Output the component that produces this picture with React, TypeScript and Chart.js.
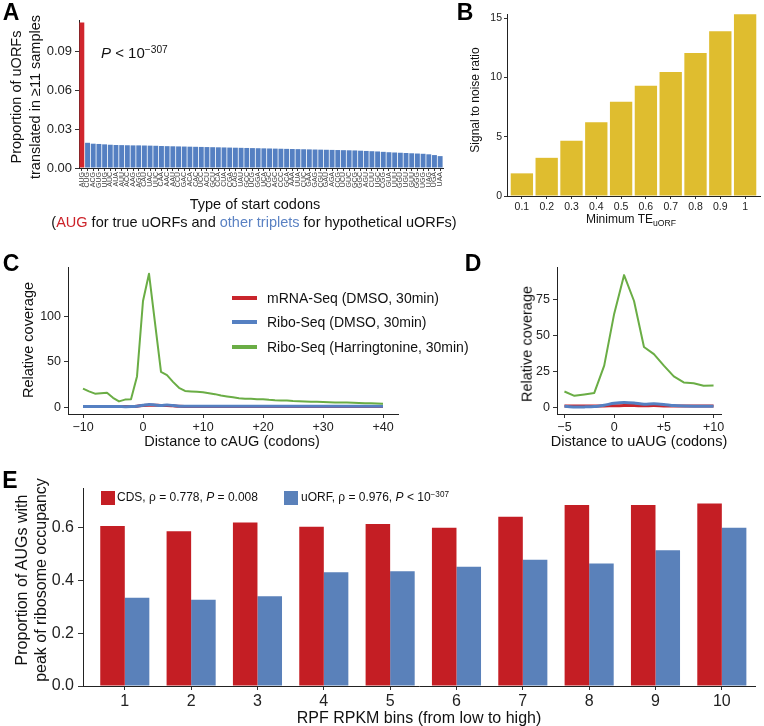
import React, { useEffect, useRef } from 'react';
import { Chart, registerables } from 'chart.js';
Chart.register(...registerables);

const FONT = '"Liberation Sans", Arial, Helvetica, sans-serif';

// ---------- Panel A ----------
const codons = ['AUG', 'CUG', 'ACG', 'GUG', 'UUG', 'AUC', 'AUA', 'AUU', 'ACC', 'AAG', 'AGG', 'CAU', 'UAC', 'UUC', 'CAA', 'AAC', 'AAU', 'CCU', 'GAC', 'ACA', 'CAC', 'UCC', 'ACU', 'GCU', 'CCA', 'CUA', 'CGA', 'CAG', 'UAU', 'GCC', 'UCG', 'GGA', 'UCA', 'CGC', 'AGC', 'CCC', 'GCA', 'AAA', 'UUA', 'CUC', 'GAA', 'GAG', 'CGU', 'GAU', 'AGA', 'CCG', 'UCU', 'GUC', 'GCG', 'GGC', 'AGU', 'CUU', 'UGC', 'CGG', 'GUA', 'UUU', 'GGU', 'UGU', 'GUU', 'GGG', 'UGG', 'UAG', 'UGA', 'UAA'];
const uorfProportion = [0.1126,
  0.0195, 0.0188, 0.0186, 0.0183, 0.0180, 0.0178, 0.0177, 0.0176, 0.0175, 0.0175,
  0.0174, 0.0173, 0.0172, 0.0170, 0.0169, 0.0168, 0.0167, 0.0166, 0.0165, 0.0164,
  0.0163, 0.0162, 0.0161, 0.0160, 0.0159, 0.0158, 0.0157, 0.0156, 0.0155, 0.0154,
  0.0153, 0.0152, 0.0151, 0.0150, 0.0149, 0.0148, 0.0147, 0.0146, 0.0145, 0.0144,
  0.0143, 0.0142, 0.0141, 0.0140, 0.0139, 0.0138, 0.0137, 0.0136, 0.0134, 0.0132,
  0.0130, 0.0128, 0.0125, 0.0122, 0.0120, 0.0118, 0.0116, 0.0114, 0.0112, 0.0110,
  0.0106, 0.0100, 0.0092];
const aYTicks = [0, 0.03, 0.06, 0.09];

// ---------- Panel B ----------
const teThresholds = ['0.1', '0.2', '0.3', '0.4', '0.5', '0.6', '0.7', '0.8', '0.9', '1'];
const signalToNoise = [1.91, 3.22, 4.66, 6.23, 7.94, 9.29, 10.46, 12.06, 13.89, 15.32];
const bYTicks = [0, 5, 10, 15];

// ---------- Panel C ----------
const cPositions = [-10, -9, -8, -7, -6, -5, -4, -3, -2, -1, 0, 1, 2, 3, 4, 5, 6, 7, 8, 9, 10, 11, 12, 13, 14, 15, 16, 17, 18, 19, 20, 21, 22, 23, 24, 25, 26, 27, 28, 29, 30, 31, 32, 33, 34, 35, 36, 37, 38, 39, 40];
const cMrnaDmso = [0.8, 0.8, 0.8, 0.8, 0.8, 0.8, 0.8, 0.9, 1.0, 1.3, 2.0, 2.4, 2.3, 2.0, 2.0, 1.6, 1.2, 1.0, 1.0, 1.0, 1.0, 1.0, 1.0, 1.0, 1.0, 1.0, 1.0, 1.0, 1.0, 1.0, 1.0, 1.0, 1.0, 1.0, 1.0, 1.0, 1.0, 1.0, 1.0, 1.0, 1.0, 1.0, 1.0, 1.0, 1.0, 1.0, 1.0, 1.0, 1.0, 1.0, 1.0];
const cRiboDmso = [0.9, 0.9, 0.9, 0.9, 0.9, 0.9, 0.9, 0.7, 0.8, 1.2, 2.2, 3.2, 2.6, 2.0, 2.6, 2.0, 1.2, 1.1, 1.1, 1.1, 1.1, 1.1, 1.1, 1.1, 1.1, 1.1, 1.1, 1.1, 1.1, 1.1, 1.1, 1.1, 1.1, 1.1, 1.1, 1.1, 1.1, 1.1, 1.1, 1.1, 1.1, 1.1, 1.1, 1.1, 1.1, 1.1, 1.1, 1.1, 1.1, 1.1, 1.1];
const cRiboHarr = [20.5, 17.5, 15, 15.5, 16, 10.5, 6.5, 8.5, 9, 34, 117, 147, 93, 39, 35.5, 28, 21.5, 18, 17.5, 17, 16.5, 15.5, 14.5, 13, 12, 11, 10, 9.5, 9.3, 8.8, 8.8, 8.2, 7.8, 7.6, 7.4, 7, 6.8, 6.5, 6.2, 6, 5.8, 5.6, 5.4, 5.3, 5.2, 5, 4.8, 4.6, 4.4, 4.2, 4];
const cXTicks = [-10, 0, 10, 20, 30, 40];
const cYTicks = [0, 50, 100];

// ---------- Panel D ----------
const dPositions = [-5, -4, -3, -2, -1, 0, 1, 2, 3, 4, 5, 6, 7, 8, 9, 10];
const dMrnaDmso = [1.0, 1.0, 1.0, 1.0, 1.0, 1.1, 1.2, 1.2, 1.1, 1.2, 1.0, 1.0, 1.0, 1.0, 1.0, 1.0];
const dRiboDmso = [0.8, 0.3, 0.3, 0.5, 1.5, 2.8, 3.4, 3.0, 2.2, 2.5, 2.0, 1.2, 0.9, 0.8, 0.8, 0.8];
const dRiboHarr = [11, 8, 9, 10, 29, 65, 92, 74, 42, 37, 29, 21.5, 17.3, 16.8, 15, 15.2];
const dXTicks = [-5, 0, 5, 10];
const dYTicks = [0, 25, 50, 75];

// ---------- Panel E ----------
const rpkmBins = [1, 2, 3, 4, 5, 6, 7, 8, 9, 10];
const cdsPeakProportion = [0.606, 0.586, 0.619, 0.603, 0.614, 0.599, 0.641, 0.686, 0.686, 0.691];
const uorfPeakProportion = [0.334, 0.327, 0.340, 0.431, 0.435, 0.452, 0.478, 0.464, 0.514, 0.599];
const eYTicks = [0, 0.2, 0.4, 0.6];

const RED_A = '#D0262D';
const BLUE_A = '#5580C2';
const GOLD = '#DFBD2F';
const L_RED = '#C9252C';
const L_BLUE = '#5580C2';
const L_GREEN = '#6AAD45';
const RED_E = '#C41E24';
const BLUE_E = '#5A81BA';

const tickGrid = (len: number) => ({ display: true, drawOnChartArea: false, drawTicks: true, tickLength: len, color: '#333', lineWidth: 1, offset: false });
const border = { display: true, color: '#222', width: 1 };
const fixTicks = (vals: number[]) => (s: any) => { s.ticks = vals.map((v) => ({ value: v })); };
const signed = (v: number) => (v > 0 ? '+' + v : v < 0 ? '\u2212' + Math.abs(v) : '0');

const basePlugins = { legend: { display: false }, tooltip: { enabled: false } };

function makeA(): any {
  return {
    type: 'bar',
    data: {
      datasets: [{
        data: codons.map((c, i) => ({ x: i + 1, y: uorfProportion[i] })),
        backgroundColor: codons.map((c, i) => (i === 0 ? RED_A : BLUE_A)),
        barPercentage: 0.86, categoryPercentage: 1,
      }],
    },
    options: {
      animation: false, responsive: false,
      layout: { padding: { top: 20, right: 17, left: 0, bottom: 0 } },
      plugins: basePlugins,
      scales: {
        x: {
          type: 'linear', min: 0.5, max: 64.5, offset: false,
          afterBuildTicks: fixTicks(codons.map((c, i) => i + 1)),
          afterFit: (s: any) => { s.height = 32; },
          ticks: { autoSkip: false, minRotation: 90, maxRotation: 90, padding: 1, color: '#444', font: { family: FONT, size: 7 }, callback: (v: any) => codons[Math.round(v) - 1] },
          grid: tickGrid(3), border,
        },
        y: {
          min: 0, max: 0.1145,
          afterBuildTicks: fixTicks(aYTicks),
          afterFit: (s: any) => { s.width = 79; },
          ticks: { padding: 3, color: '#222', font: { family: FONT, size: 13 }, callback: (v: any) => Number(v).toFixed(2) },
          grid: tickGrid(4), border,
        },
      },
    },
  };
}

function makeB(): any {
  return {
    type: 'bar',
    data: {
      datasets: [{
        data: teThresholds.map((t, i) => ({ x: i + 1, y: signalToNoise[i] })),
        backgroundColor: GOLD, barPercentage: 0.9, categoryPercentage: 1,
      }],
    },
    options: {
      animation: false, responsive: false,
      layout: { padding: { top: 14, right: 4, left: 0, bottom: 0 } },
      plugins: basePlugins,
      scales: {
        x: {
          type: 'linear', min: 0.4, max: 10.6, offset: false,
          afterBuildTicks: fixTicks(teThresholds.map((t, i) => i + 1)),
          afterFit: (s: any) => { s.height = 34; },
          ticks: { autoSkip: false, maxRotation: 0, padding: 2, color: '#222', font: { family: FONT, size: 10.5 }, callback: (v: any) => teThresholds[Math.round(v) - 1] },
          grid: tickGrid(3), border,
        },
        y: {
          min: 0, max: 15.35,
          afterBuildTicks: fixTicks(bYTicks),
          afterFit: (s: any) => { s.width = 27; },
          ticks: { padding: 2, color: '#222', font: { family: FONT, size: 10.5 }, callback: (v: any) => String(v) },
          grid: tickGrid(3), border,
        },
      },
    },
  };
}

function lineSet(xs: number[], ys: number[], color: string, width: number, order: number) {
  return {
    data: xs.map((x, i) => ({ x, y: ys[i] })),
    borderColor: color, borderWidth: width, pointRadius: 0, tension: 0.25, fill: false, order,
    borderJoinStyle: 'round', borderCapStyle: 'butt',
  };
}

function makeLine(xs: number[], red: number[], blue: number[], green: number[], xmin: number, xmax: number, ymin: number, ymax: number, xt: number[], yt: number[], yWidth: number, padRight: number): any {
  const g = lineSet(xs, green, L_GREEN, 2, 0);
  (g as any).tension = 0;
  return {
    type: 'line',
    data: { datasets: [g, lineSet(xs, blue, L_BLUE, 3, 1), lineSet(xs, red, L_RED, 3, 2)] },
    options: {
      animation: false, responsive: false,
      layout: { padding: { top: 17, right: padRight, left: 0, bottom: 0 } },
      plugins: basePlugins,
      scales: {
        x: {
          type: 'linear', min: xmin, max: xmax,
          afterBuildTicks: fixTicks(xt),
          afterFit: (s: any) => { s.height = 36; },
          ticks: { autoSkip: false, maxRotation: 0, padding: 2, color: '#222', font: { family: FONT, size: 12.5 }, callback: (v: any) => signed(Number(v)) },
          grid: tickGrid(4), border,
        },
        y: {
          min: ymin, max: ymax,
          afterBuildTicks: fixTicks(yt),
          afterFit: (s: any) => { s.width = yWidth; },
          ticks: { padding: 3, color: '#222', font: { family: FONT, size: 12.5 }, callback: (v: any) => String(v) },
          grid: tickGrid(4), border,
        },
      },
    },
  };
}

function makeE(): any {
  return {
    type: 'bar',
    data: {
      datasets: [
        { data: rpkmBins.map((b, i) => ({ x: b, y: cdsPeakProportion[i] })), backgroundColor: RED_E, barPercentage: 1, categoryPercentage: 0.74 },
        { data: rpkmBins.map((b, i) => ({ x: b, y: uorfPeakProportion[i] })), backgroundColor: BLUE_E, barPercentage: 1, categoryPercentage: 0.74 },
      ],
    },
    options: {
      animation: false, responsive: false,
      layout: { padding: { top: 18, right: 9, left: 0, bottom: 0 } },
      plugins: basePlugins,
      scales: {
        x: {
          type: 'linear', min: 0.37, max: 10.5, offset: false,
          afterBuildTicks: fixTicks(rpkmBins),
          afterFit: (s: any) => { s.height = 40; },
          ticks: { autoSkip: false, maxRotation: 0, padding: 2, color: '#222', font: { family: FONT, size: 16 }, callback: (v: any) => String(v) },
          grid: tickGrid(4), border,
        },
        y: {
          min: 0, max: 0.75,
          afterBuildTicks: fixTicks(eYTicks),
          afterFit: (s: any) => { s.width = 83; },
          ticks: { padding: 4, color: '#222', font: { family: FONT, size: 16 }, callback: (v: any) => Number(v).toFixed(1) },
          grid: tickGrid(5), border,
        },
      },
    },
  };
}

function ChartCanvas({ left, top, width, height, make }: any) {
  const ref = useRef<HTMLCanvasElement | null>(null);
  useEffect(() => {
    const chart = new Chart(ref.current as HTMLCanvasElement, make());
    return () => chart.destroy();
  }, []);
  return <canvas ref={ref} width={width} height={height} style={{ position: 'absolute', left, top, width, height }} />;
}

function T({ x, y, size = 14.5, rot = false, bold = false, color = '#111', children, anchor = 'center' }: any) {
  const tr = anchor === 'center' ? 'translate(-50%, -50%)' + (rot ? ' rotate(-90deg)' : '') : 'translate(0, -50%)';
  return (
    <div style={{ position: 'absolute', left: x, top: y, transform: tr, whiteSpace: 'nowrap', fontFamily: FONT, fontSize: size, fontWeight: bold ? 700 : 400, color, lineHeight: 1.15 }}>
      {children}
    </div>
  );
}

const sup = { fontSize: '0.68em', verticalAlign: '0.55em', lineHeight: 0 } as any;
const sub = { fontSize: '0.72em', verticalAlign: '-0.35em', lineHeight: 0 } as any;

function LegendLine({ y, color, label }: any) {
  return (
    <>
      <div style={{ position: 'absolute', left: 232, top: y - 2, width: 25, height: 4, background: color }} />
      <T x={267} y={y} size={14} anchor="left">{label}</T>
    </>
  );
}

export default function App() {
  return (
    <div style={{ position: 'absolute', left: 0, top: 0, width: 764, height: 726, background: '#fff', overflow: 'hidden' }}>
      <ChartCanvas left={0} top={0} width={460} height={200} make={makeA} />
      <ChartCanvas left={480} top={0} width={284} height={230} make={makeB} />
      <ChartCanvas left={0} top={250} width={470} height={200} make={() => makeLine(cPositions, cMrnaDmso, cRiboDmso, cRiboHarr, -12.5, 42.5, -7.35, 154.35, cXTicks, cYTicks, 68, 72)} />
      <ChartCanvas left={480} top={250} width={284} height={200} make={() => makeLine(dPositions, dMrnaDmso, dRiboDmso, dRiboHarr, -5.75, 10.75, -4.65, 97.65, dXTicks, dYTicks, 77, 43)} />
      <ChartCanvas left={0} top={470} width={764} height={256} make={makeE} />

      {/* Panel letters */}
      <T x={11} y={12} size={23} bold color="#000">A</T>
      <T x={465} y={12} size={23} bold color="#000">B</T>
      <T x={11} y={263} size={23} bold color="#000">C</T>
      <T x={473} y={263} size={23} bold color="#000">D</T>
      <T x={10} y={480} size={23} bold color="#000">E</T>

      {/* Panel A */}
      <T x={16} y={97} size={14.5} rot>Proportion of uORFs</T>
      <T x={35} y={97} size={14.5} rot>translated in ≥11 samples</T>
      <T x={101} y={53} size={15} anchor="left"><i>P</i> &lt; 10<span style={sup}>−307</span></T>
      <T x={255} y={204} size={14.5}>Type of start codons</T>
      <T x={254} y={222} size={14.5}>(<span style={{ color: '#CC2229' }}>AUG</span> for true uORFs and <span style={{ color: '#5B82C3' }}>other triplets</span> for hypothetical uORFs)</T>

      {/* Panel B */}
      <T x={476} y={100} size={12} rot>Signal to noise ratio</T>
      <T x={631} y={220} size={12}>Minimum TE<span style={sub}>uORF</span></T>

      {/* Panel C */}
      <T x={28} y={340} size={14.5} rot>Relative coverage</T>
      <T x={232} y={441} size={14.5}>Distance to cAUG (codons)</T>
      <LegendLine y={298} color={L_RED} label="mRNA-Seq (DMSO, 30min)" />
      <LegendLine y={322} color={L_BLUE} label="Ribo-Seq (DMSO, 30min)" />
      <LegendLine y={347} color={L_GREEN} label="Ribo-Seq (Harringtonine, 30min)" />

      {/* Panel D */}
      <T x={527} y={344} size={14.5} rot>Relative coverage</T>
      <T x={639} y={441} size={14.5}>Distance to uAUG (codons)</T>

      {/* Panel E */}
      <T x={22} y={580} size={16} rot>Proportion of AUGs with</T>
      <T x={41} y={580} size={16} rot>peak of ribosome occupancy</T>
      <T x={419} y={718} size={16}>RPF RPKM bins (from low to high)</T>
      <div style={{ position: 'absolute', left: 101, top: 491, width: 14, height: 14, background: RED_E }} />
      <T x={117} y={498} size={12} anchor="left">CDS, ρ = 0.778, <i>P</i> = 0.008</T>
      <div style={{ position: 'absolute', left: 284, top: 491, width: 14, height: 14, background: BLUE_E }} />
      <T x={301} y={498} size={12} anchor="left">uORF, ρ = 0.976, <i>P</i> &lt; 10<span style={sup}>−307</span></T>
    </div>
  );
}
